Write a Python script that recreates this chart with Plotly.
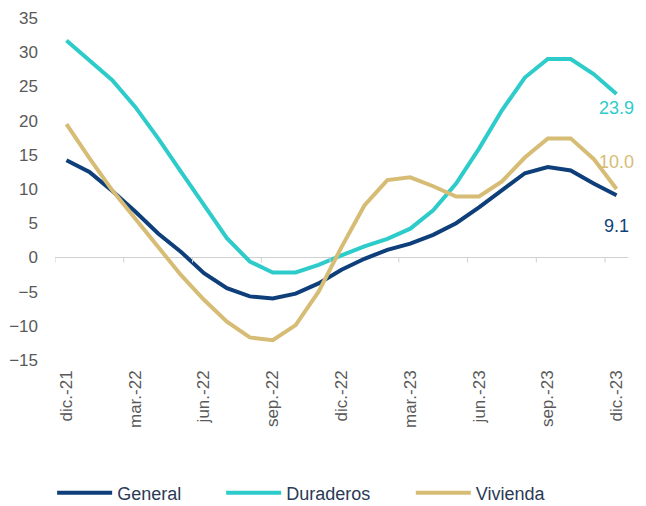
import plotly.graph_objects as go

categories = ["dic.-21", "ene.-22", "feb.-22", "mar.-22", "abr.-22", "may.-22", "jun.-22",
              "jul.-22", "ago.-22", "sep.-22", "oct.-22", "nov.-22", "dic.-22",
              "ene.-23", "feb.-23", "mar.-23", "abr.-23", "may.-23", "jun.-23",
              "jul.-23", "ago.-23", "sep.-23", "oct.-23", "nov.-23", "dic.-23"]

general = [14.2, 12.5, 9.7, 6.7, 3.5, 0.8, -2.3, -4.5, -5.7, -6.0, -5.3, -3.8, -1.8,
           -0.2, 1.1, 2.0, 3.3, 5.0, 7.3, 9.8, 12.3, 13.2, 12.7, 10.8, 9.1]
duraderos = [31.7, 28.8, 25.9, 22.0, 17.4, 12.5, 7.6, 2.8, -0.6, -2.2, -2.2, -1.1, 0.3,
             1.6, 2.7, 4.2, 6.9, 10.8, 15.9, 21.5, 26.3, 29.0, 29.0, 26.8, 23.9]
vivienda = [19.5, 14.5, 9.8, 5.7, 1.6, -2.6, -6.2, -9.4, -11.7, -12.1, -9.9, -5.0, 1.5,
            7.6, 11.3, 11.7, 10.4, 8.9, 8.9, 11.1, 14.6, 17.4, 17.4, 14.4, 10.0]

tick_idx = list(range(0, 25, 3))
tick_text = [categories[i] for i in tick_idx]
y_ticks = list(range(-15, 40, 5))

# name, values, colour, label y-shift, legend id, legend x (paper)
series = [
    ("General", general, "#0E3F7A", -31, "legend", -0.005),
    ("Duraderos", duraderos, "#2ECBCB", -14, "legend2", 0.290),
    ("Vivienda", vivienda, "#D6BC75", 27, "legend3", 0.621),
]

x = list(range(len(categories)))
fig = go.Figure()
for name, vals, color, _, leg, _lx in series:
    fig.add_trace(go.Scatter(x=x, y=vals, mode="lines", name=name, legend=leg,
                             line=dict(color=color, width=4)))

# end-of-line value labels
for name, vals, color, shift, _, _lx in series:
    fig.add_annotation(x=x[-1], y=vals[-1], text=f"{vals[-1]:.1f}", showarrow=False,
                       yshift=shift, xshift=0,
                       font=dict(family="Liberation Sans, Arial", size=18, color=color))

# tick marks on the zero line, at category boundaries every 3 months
for i in tick_idx[:-1]:
    fig.add_shape(type="line", xref="x", yref="y", x0=i - 0.5, x1=i - 0.5, y0=0, y1=-0.75,
                  line=dict(color="#D0D0D0", width=1))
fig.add_shape(type="line", xref="x", yref="y", x0=23.5, x1=23.5, y0=0, y1=-0.75,
              line=dict(color="#D0D0D0", width=1))

legend_style = dict(orientation="h", xanchor="left", y=-0.389, yanchor="middle",
                    font=dict(size=18, color="#2B3A55"), itemwidth=55,
                    bgcolor="rgba(0,0,0,0)")
legends = {}
for name, vals, color, shift, leg, lx in series:
    legends[leg] = dict(legend_style, x=lx)

# page body adds an 8px offset, so the figure is 8px smaller and margins shifted
fig.update_layout(
    width=638, height=498,
    margin=dict(l=47, r=18, t=10, b=146, autoexpand=False),
    paper_bgcolor="white", plot_bgcolor="white",
    font=dict(family="Liberation Sans, Arial", size=14, color="#595959"),
    showlegend=True,
    **legends,
)
fig.update_xaxes(range=[-0.5, 24.5], tickmode="array", tickvals=tick_idx, ticktext=tick_text,
                 tickangle=-90, showgrid=False, zeroline=False, showline=False, automargin=False,
                 ticks="", ticklabelstandoff=6, tickfont=dict(size=17, color="#595959"))
fig.update_yaxes(range=[-15, 35], tickmode="array", tickvals=y_ticks, showgrid=False,
                 zeroline=True, zerolinecolor="#D0D0D0", zerolinewidth=1, showline=False,
                 automargin=False,
                 ticks="", ticklabelstandoff=16, tickfont=dict(size=17, color="#595959"))

fig.write_html("out.html")
